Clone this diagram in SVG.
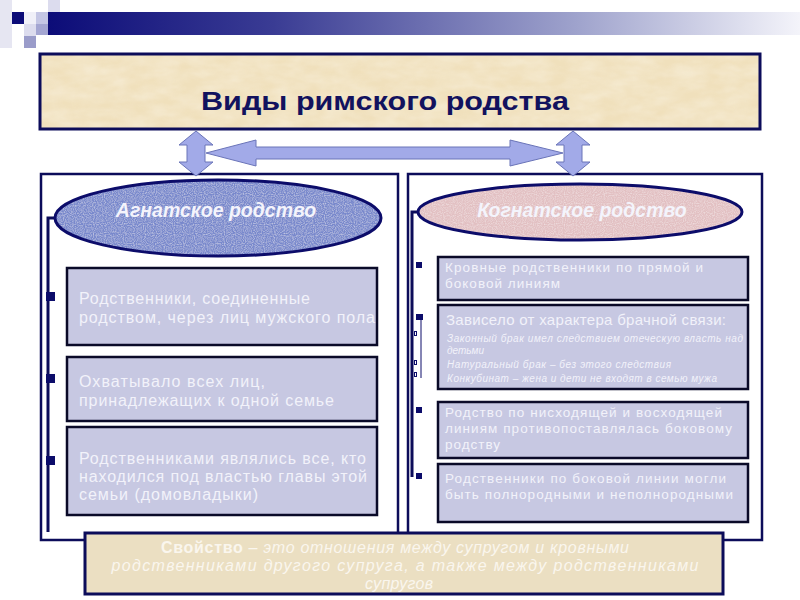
<svg xmlns="http://www.w3.org/2000/svg" width="800" height="600" viewBox="0 0 800 600">
<defs>
  <linearGradient id="bar" x1="0" y1="0" x2="1" y2="0">
    <stop offset="0" stop-color="#0c0c78"/>
    <stop offset="0.3" stop-color="#3a3c94"/>
    <stop offset="0.7" stop-color="#9ea2cc"/>
    <stop offset="1" stop-color="#f4f4fa"/>
  </linearGradient>
  <filter id="parch" x="0" y="0" width="1" height="1">
    <feTurbulence type="fractalNoise" baseFrequency="0.04 0.09" numOctaves="3" seed="4" result="n"/>
    <feColorMatrix in="n" type="matrix" values="0 0 0 0 0.93  0 0 0 0 0.85  0 0 0 0 0.68  0 0 0 -1.6 1.2" result="c"/>
    <feComposite in="c" in2="SourceGraphic" operator="in"/>
  </filter>
  <filter id="grain" x="0" y="0" width="1" height="1">
    <feTurbulence type="fractalNoise" baseFrequency="0.9" numOctaves="1" seed="2" result="n"/>
    <feColorMatrix in="n" type="matrix" values="0 0 0 0 1  0 0 0 0 1  0 0 0 0 1  0 0 0 0.9 -0.35" result="w"/>
    <feComposite in="w" in2="SourceGraphic" operator="in" result="wm"/>
    <feMerge><feMergeNode in="SourceGraphic"/><feMergeNode in="wm"/></feMerge>
  </filter>
</defs>
<style>
  .panel { fill: #ffffff; stroke: #0c0c5a; stroke-width: 2.5; }
  .box { fill: #c7c8e2; stroke: #0a0a28; stroke-width: 2.5; }
  .bul { fill: #0c0c6a; }
  .sub { fill: none; stroke: #0c0c6a; stroke-width: 1; }
  .br { fill: none; stroke: #0c0c5a; stroke-width: 3; }
  .arw { fill: #a2aae8; stroke: #6a74b8; stroke-width: 1; }
  .t { font-family: "Liberation Sans", Arial, sans-serif; fill: #f2f2fa; }
  .tl { font-size: 16px; }
  .tr { font-size: 13.5px; }
  .ti { font-size: 10px; font-style: italic; }
  .eh { font-family: "Liberation Sans", Arial, sans-serif; font-size: 19.5px; font-weight: bold; font-style: italic; fill: #f4f4fc; text-anchor: middle; }
  .bt { font-family: "Liberation Sans", Arial, sans-serif; font-size: 16px; fill: #faf6ee; text-anchor: middle; }
</style>
<rect width="800" height="600" fill="#ffffff"/>

<g id="header">
  <rect x="0" y="0" width="12" height="48" fill="#e6e6f2"/>
  <rect x="48" y="12" width="752" height="23" fill="url(#bar)"/>
  <rect x="12" y="12" width="12" height="12" fill="#0c0c78"/>
  <rect x="24" y="12" width="12" height="12" fill="#f0f0f8"/>
  <rect x="36" y="12" width="12" height="12" fill="#c4c6e4"/>
  <rect x="48" y="0" width="12" height="12" fill="#dcdcee"/>
  <rect x="24" y="24" width="12" height="12" fill="#dcdcee"/>
  <rect x="36" y="24" width="12" height="11" fill="#a4a6d2"/>
  <rect x="24" y="36" width="12" height="12" fill="#9a9cca"/>
</g>

<g id="title">
  <rect x="40" y="54" width="720" height="75" fill="#f0e0bc"/>
  <rect x="40" y="54" width="720" height="75" fill="#f0e0bc" filter="url(#parch)" opacity="0.7"/>
  <rect x="40" y="54" width="720" height="75" fill="none" stroke="#0c0c5a" stroke-width="3"/>
  <text x="385" y="110" text-anchor="middle" font-family="'Liberation Sans', Arial, sans-serif" font-size="25" font-weight="bold" fill="#12125e" textLength="368" lengthAdjust="spacingAndGlyphs">Виды римского родства</text>
</g>

<g id="left-panel">
  <rect class="panel" x="41" y="174" width="357" height="366"/>
</g>
<g id="right-panel">
  <rect class="panel" x="408" y="174" width="354" height="366"/>
</g>

<g id="connectors">
  <path class="arw" d="M196,131 L213,145 L205,145 L205,162 L213,162 L196,176 L179,162 L187,162 L187,145 L179,145 Z"/>
  <path class="arw" d="M573,131 L590,145 L582,145 L582,162 L590,162 L573,176 L556,162 L564,162 L564,145 L556,145 Z"/>
  <path class="arw" d="M206,153 L256,140 L256,147 L510,147 L510,140 L563,153 L510,166 L510,159 L256,159 L256,166 Z"/>
  <path class="br" d="M56,218 H48 V532"/>
  <path class="br" d="M418,212 H412 V477"/>
</g>

<g id="agnat">
  <ellipse cx="218" cy="218" rx="163" ry="38" fill="#7888cc" filter="url(#grain)"/>
  <ellipse cx="218" cy="218" rx="163" ry="38" fill="none" stroke="#0c0c6a" stroke-width="3"/>
  <text class="eh" x="216" y="217">Агнатское родство</text>
</g>

<g id="kognat">
  <ellipse cx="580" cy="212" rx="162" ry="28" fill="#e2c0c2" filter="url(#grain)"/>
  <ellipse cx="580" cy="212" rx="162" ry="28" fill="none" stroke="#0c0c6a" stroke-width="3"/>
  <text class="eh" x="582" y="217">Когнатское родство</text>
</g>

<g id="l1">
  <rect class="bul" x="46" y="292" width="9" height="9"/>
  <rect class="box" x="67" y="268" width="310" height="77"/>
  <text class="t tl" x="79" y="304" textLength="231" lengthAdjust="spacing">Родственники, соединенные</text>
  <text class="t tl" x="79" y="323" textLength="296" lengthAdjust="spacing">родством, через лиц мужского пола</text>
</g>
<g id="l2">
  <rect class="bul" x="46" y="374" width="9" height="9"/>
  <rect class="box" x="67" y="357" width="310" height="64"/>
  <text class="t tl" x="79" y="387" textLength="186" lengthAdjust="spacing">Охватывало всех лиц,</text>
  <text class="t tl" x="79" y="406" textLength="255" lengthAdjust="spacing">принадлежащих к одной семье</text>
</g>
<g id="l3">
  <rect class="bul" x="46" y="456" width="9" height="9"/>
  <rect class="box" x="67" y="427" width="310" height="88"/>
  <text class="t tl" x="79" y="464" textLength="287" lengthAdjust="spacing">Родственниками являлись все, кто</text>
  <text class="t tl" x="79" y="482" textLength="288" lengthAdjust="spacing">находился под властью главы этой</text>
  <text class="t tl" x="79" y="500" textLength="179" lengthAdjust="spacing">семьи (домовладыки)</text>
</g>

<g id="r1">
  <rect class="bul" x="416" y="262" width="6" height="6"/>
  <rect class="box" x="438" y="257" width="310" height="43"/>
  <text class="t tr" x="445" y="272" textLength="258" lengthAdjust="spacing">Кровные родственники по прямой и</text>
  <text class="t tr" x="445" y="288" textLength="115" lengthAdjust="spacing">боковой линиям</text>
</g>
<g id="r2">
  <rect class="bul" x="416" y="314" width="7" height="6"/>
  <path class="sub" d="M421,320 V378"/>
  <rect class="sub" x="414.5" y="331.5" width="2" height="4"/>
  <rect class="sub" x="414.5" y="360.5" width="2" height="4"/>
  <rect class="sub" x="414.5" y="372.5" width="2" height="4"/>
  <rect class="box" x="438" y="305" width="310" height="84"/>
  <text class="t" x="446" y="325" font-size="15" textLength="280" lengthAdjust="spacing">Зависело от характера брачной связи:</text>
  <text class="t ti" x="447" y="342" textLength="296" lengthAdjust="spacing">Законный брак имел следствием отеческую власть над</text>
  <text class="t ti" x="447" y="354">детьми</text>
  <text class="t ti" x="447" y="368" textLength="224" lengthAdjust="spacing">Натуральный брак – без этого следствия</text>
  <text class="t ti" x="447" y="382" textLength="270" lengthAdjust="spacing">Конкубинат – жена и дети не входят в семью мужа</text>
</g>
<g id="r3">
  <rect class="bul" x="416" y="407" width="6" height="6"/>
  <rect class="box" x="438" y="402" width="310" height="56"/>
  <text class="t tr" x="445" y="417" textLength="277" lengthAdjust="spacing">Родство по нисходящей и восходящей</text>
  <text class="t tr" x="445" y="433" textLength="287" lengthAdjust="spacing">линиям противопоставлялась боковому</text>
  <text class="t tr" x="445" y="449" textLength="55" lengthAdjust="spacing">родству</text>
</g>
<g id="r4">
  <rect class="bul" x="416" y="473" width="6" height="6"/>
  <rect class="box" x="438" y="464" width="310" height="58"/>
  <text class="t tr" x="445" y="483" textLength="281" lengthAdjust="spacing">Родственники по боковой линии могли</text>
  <text class="t tr" x="445" y="499" textLength="288" lengthAdjust="spacing">быть полнородными и неполнородными</text>
</g>

<g id="svoistvo">
  <rect x="85" y="533" width="638" height="61" fill="#ebdfc2" stroke="#0c0c5a" stroke-width="3"/>
  <text class="bt" x="395" y="553" textLength="468" lengthAdjust="spacing"><tspan font-weight="bold">Свойство</tspan><tspan font-style="italic"> – это отношения между супругом и кровными</tspan></text>
  <text class="bt" x="405" y="571" font-style="italic" textLength="587" lengthAdjust="spacing">родственниками другого супруга, а также между родственниками</text>
  <text class="bt" x="399" y="589" font-style="italic" textLength="68" lengthAdjust="spacing">супругов</text>
</g>
</svg>
